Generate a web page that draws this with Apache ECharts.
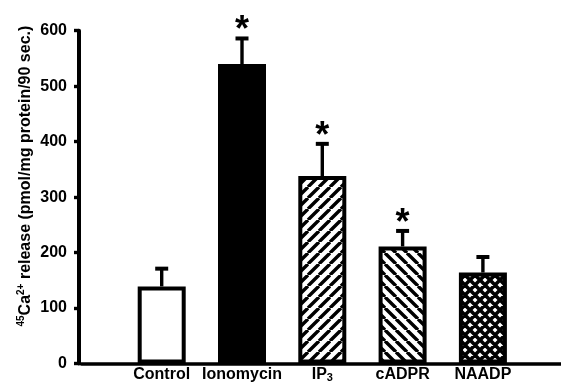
<!DOCTYPE html>
<html>
<head>
<meta charset="utf-8">
<script src="https://cdn.jsdelivr.net/npm/echarts@6/dist/echarts.min.js"></script>
<style>html,body{margin:0;padding:0;background:#fff}#c{width:561px;height:386px}</style>
</head>
<body>
<div id="c"></div>
<script>
const categories = ['Control', 'Ionomycin', 'IP3', 'cADPR', 'NAADP'];
const meanRelease = [139, 540, 338, 211, 164];
const semRelease = [32, 46, 58, 28, 28];
const significant = [false, true, true, true, false];
const yMin = 0, yMax = 600, yStep = 100;

const FONT = '"Liberation Sans", Arial, sans-serif';

function makePattern(kind) {
  const s = kind === 'x' ? 10 : 11;
  const c = document.createElement('canvas');
  c.width = s; c.height = s;
  const g = c.getContext('2d');
  g.fillStyle = '#fff'; g.fillRect(0, 0, s, s);
  g.strokeStyle = '#000';
  g.lineWidth = kind === 'x' ? 3.6 : 3.4;
  g.beginPath();
  for (const k of [-s, 0, s]) {
    if (kind === '/' || kind === 'x') { g.moveTo(k, s); g.lineTo(k + s, 0); }
    if (kind === '\\' || kind === 'x') { g.moveTo(k, 0); g.lineTo(k + s, s); }
  }
  g.stroke();
  return { image: c, repeat: 'repeat' };
}
const fills = ['#ffffff', '#000000', makePattern('/'), makePattern('\\'), makePattern('x')];

const xCats = [''].concat(categories, ['']);
const barData = ['-'].concat(meanRelease.map((v, i) => ({
  value: v,
  itemStyle: { color: fills[i], borderColor: '#000', borderWidth: 4 }
})), ['-']);
const errData = categories.map((c, i) => [i + 1, meanRelease[i], meanRelease[i] + semRelease[i], significant[i] ? 1 : 0]);

const chart = echarts.init(document.getElementById('c'), null, { renderer: 'canvas' });
chart.setOption({
  animation: false,
  backgroundColor: '#fff',
  grid: { left: 81.4, right: -2.2, top: 30.7, bottom: 22.5, containLabel: false, outerBoundsMode: 'none' },
  xAxis: {
    type: 'category',
    data: xCats,
    boundaryGap: false,
    axisLine: { show: true, lineStyle: { color: '#000', width: 3.6 } },
    axisTick: { show: false },
    splitLine: { show: false },
    axisLabel: {
      margin: 3,
      interval: 0,
      color: '#000',
      formatter: v => v === 'IP3' ? '{b|IP}{s|3}' : '{b|' + v + '}',
      rich: {
        b: { fontFamily: FONT, fontWeight: 'bold', fontSize: 16, color: '#000', lineHeight: 17, verticalAlign: 'top' },
        s: { fontFamily: FONT, fontWeight: 'bold', fontSize: 11, color: '#000', lineHeight: 17, verticalAlign: 'top', padding: [6, 0, 0, 0] }
      }
    }
  },
  yAxis: {
    type: 'value',
    min: yMin, max: yMax, interval: yStep,
    offset: 2.4,
    axisLine: { show: true, lineStyle: { color: '#000', width: 4 } },
    axisTick: { show: true, length: 5, lineStyle: { color: '#000', width: 3.4 } },
    splitLine: { show: false },
    axisLabel: { margin: 12, color: '#000', fontFamily: FONT, fontWeight: 'bold', fontSize: 16 },
    name: '{sup|45}{t|Ca}{sup|2+}{t| release (pmol/mg protein/90 sec.)}',
    nameLocation: 'middle',
    nameRotate: 90,
    nameGap: 43,
    nameMoveOverlap: false,
    nameTextStyle: {
      padding: [0, 0, 0, 42],
      rich: {
        t: { fontFamily: FONT, fontWeight: 'bold', fontSize: 16, color: '#000', lineHeight: 20 },
        sup: { fontFamily: FONT, fontWeight: 'bold', fontSize: 10, color: '#000', verticalAlign: 'top', lineHeight: 20, padding: [0, 0, 7, 0] }
      }
    }
  },
  series: [
    {
      type: 'bar',
      data: barData,
      barWidth: 48,
      z: 2
    },
    {
      type: 'custom',
      data: errData,
      z: 3,
      renderItem: function (params, api) {
        const base = api.coord([api.value(0), api.value(1)]);
        const top = api.coord([api.value(0), api.value(2)]);
        const x = base[0];
        const children = [
          { type: 'line', shape: { x1: x, y1: base[1], x2: x, y2: top[1] }, style: { stroke: '#000', lineWidth: 3.4 } },
          { type: 'line', shape: { x1: x - 6.5, y1: top[1], x2: x + 6.5, y2: top[1] }, style: { stroke: '#000', lineWidth: 4 } }
        ];
        if (api.value(3) === 1) {
          children.push({
            type: 'text',
            style: { text: '*', x: x, y: top[1] - 7, align: 'center', verticalAlign: 'middle', font: 'bold 36px ' + FONT, fill: '#000' }
          });
        }
        return { type: 'group', children: children };
      }
    }
  ]
});
</script>
</body>
</html>
